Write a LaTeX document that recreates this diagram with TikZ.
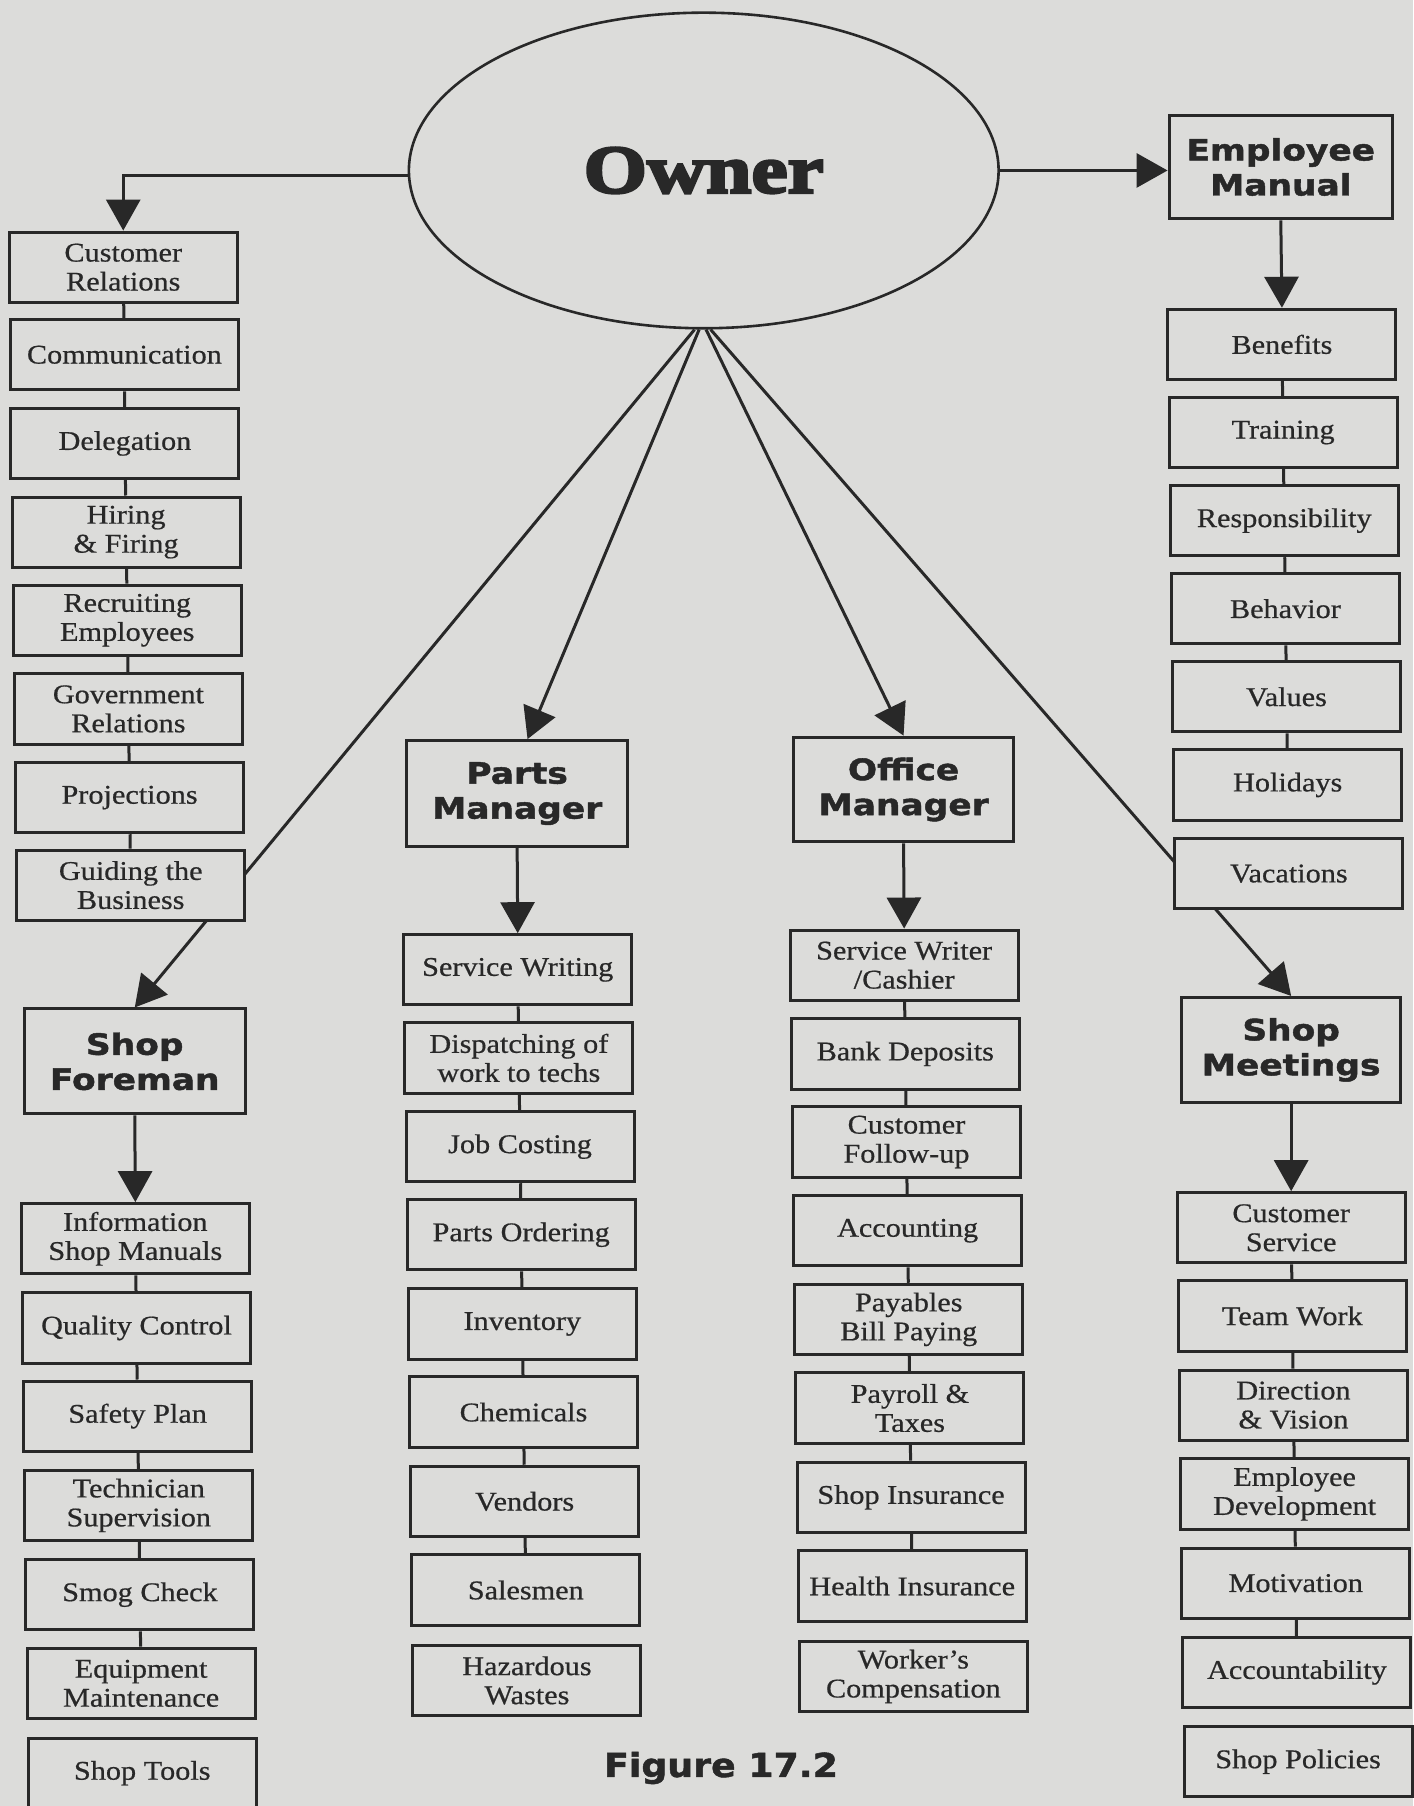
\documentclass[tikz,border=0pt]{standalone}
\usepackage{fontspec}
\usetikzlibrary{arrows.meta,shapes.geometric}
\newfontfamily\boxfont[FakeStretch=1.12,FakeBold=0.6]{Liberation Serif}
\newfontfamily\headfont[FakeStretch=1.17,FakeBold=1.5]{DejaVu Sans Bold}
\newfontfamily\figfont[FakeStretch=1.1,FakeBold=1.5]{DejaVu Sans Bold}
\newfontfamily\ownerfont[FakeStretch=1.2,FakeBold=4]{Liberation Serif Bold}
\definecolor{paper}{RGB}{220,220,218}
\definecolor{ink}{RGB}{40,40,40}
\def\pxu{0.5758pt}
\pgfdeclarelayer{paperlayer}
\pgfdeclarelayer{linelayer}
\pgfsetlayers{paperlayer,linelayer,main}
\tikzset{
  box/.style={draw=ink, fill=paper, line width=1.5pt, text=ink,
    minimum width=198*\pxu, minimum height=61*\pxu, inner sep=0pt, align=center,
    font=\boxfont\fontsize{13.5pt}{14.5pt}\selectfont},
  hbox/.style={box, minimum width=192*\pxu, minimum height=91*\pxu,
    font=\headfont\fontsize{14.7pt}{17.5pt}\selectfont},
  conn/.style={draw=ink, line width=1.5pt},
  arr/.style={conn, -{Triangle[length=15.5pt,width=17pt]}},
}
\begin{document}
\begin{tikzpicture}[x=\pxu, y=-\pxu]
\begin{pgfonlayer}{paperlayer}
\fill[paper] (0,0) rectangle (1227,1568);
\end{pgfonlayer}
\useasboundingbox (0,0) rectangle (1227,1568);

% Owner
\node[ellipse, draw=ink, fill=paper, line width=1.3pt, minimum width=512*\pxu,
  minimum height=274*\pxu, inner sep=0pt, text=ink,
  font=\ownerfont\fontsize{34pt}{36pt}\selectfont] (owner) at (611,148) {Owner};

% Column 1
\node[box] (cr)      at (107,232)   {Customer\\Relations};
\node[box] (comm)    at (108,308)   {Communication};
\node[box] (deleg)   at (108.5,385) {Delegation};
\node[box] (hiring)  at (109.5,462) {Hiring\\\& Firing};
\node[box] (recruit) at (110.5,538.5) {Recruiting\\Employees};
\node[box] (govt)    at (111.5,615.5) {Government\\Relations};
\node[box] (proj)    at (112.5,692.5) {Projections};
\node[box] (guide)   at (113.5,768.5) {Guiding the\\Business};
\node[hbox] (foreman) at (117,921.5) {Shop\\Foreman};
\node[box] (info)    at (117.5,1075.5) {Information\\Shop Manuals};
\node[box] (qc)      at (118.5,1153)  {Quality Control};
\node[box] (safety)  at (119.5,1229.5) {Safety Plan};
\node[box] (tech)    at (120.5,1307)  {Technician\\Supervision};
\node[box] (smog)    at (121.5,1384.5) {Smog Check};
\node[box] (equip)   at (122.5,1461.5) {Equipment\\Maintenance};
\node[box] (tools)   at (123.5,1539.5) {Shop Tools};

% Column 2
\node[hbox, minimum height=92*\pxu] (parts) at (449,689) {Parts\\Manager};
\node[box] (sw)      at (449.5,842)   {Service Writing};
\node[box] (disp)    at (450.5,918.5) {Dispatching of\\work to techs};
\node[box] (jobc)    at (451.5,995.5) {Job Costing};
\node[box] (porder)  at (452.5,1072)  {Parts Ordering};
\node[box] (inv)     at (453.5,1149.5) {Inventory};
\node[box] (chem)    at (454.5,1226)  {Chemicals};
\node[box] (vend)    at (455.5,1303.5) {Vendors};
\node[box] (sales)   at (456.5,1380.5) {Salesmen};
\node[box] (haz)     at (457.5,1459)  {Hazardous\\Wastes};

% Column 3
\node[hbox, minimum width=191*\pxu] (office) at (784.5,685.5) {Office\\Manager};
\node[box] (swc)     at (785,838)    {Service Writer\\/Cashier};
\node[box] (bank)    at (786,915)    {Bank Deposits};
\node[box] (cfu)     at (787,991.5)  {Customer\\Follow-up};
\node[box] (acct)    at (788,1068.5) {Accounting};
\node[box] (pay)     at (789,1145.5) {Payables\\Bill Paying};
\node[box] (payroll) at (790,1222.5) {Payroll \&\\Taxes};
\node[box] (shopins) at (791,1300)   {Shop Insurance};
\node[box] (health)  at (792,1377)   {Health Insurance};
\node[box] (worker)  at (793,1455.5) {Worker’s\\Compensation};

% Column 4
\node[hbox, minimum width=194*\pxu, minimum height=90*\pxu] (empman) at (1112,145) {Employee\\Manual};
\node[box] (ben)     at (1113,299)   {Benefits};
\node[box] (train)   at (1114,375.5) {Training};
\node[box] (resp)    at (1115,452)   {Responsibility};
\node[box] (behav)   at (1116,528.5) {Behavior};
\node[box] (values)  at (1117,605)   {Values};
\node[box] (holid)   at (1118,681.5) {Holidays};
\node[box] (vacat)   at (1119,758.5) {Vacations};
\node[hbox, minimum width=190*\pxu] (meet) at (1121,911.5) {Shop\\Meetings};
\node[box] (csvc)    at (1121,1066)  {Customer\\Service};
\node[box] (team)    at (1122,1142.5) {Team Work};
\node[box] (dir)     at (1123,1220)  {Direction\\\& Vision};
\node[box] (empdev)  at (1124,1297)  {Employee\\Development};
\node[box] (motiv)   at (1125,1374.5) {Motivation};
\node[box] (acctb)   at (1126,1452)  {Accountability};
\node[box] (pol)     at (1127,1529.5) {Shop Policies};

% Caption
\node[text=ink, font=\figfont\fontsize{16.5pt}{18pt}\selectfont] (fig) at (626,1535) {Figure 17.2};

% Connectors
\begin{pgfonlayer}{linelayer}
\draw[arr] ([yshift=-4*\pxu]owner.west) -| (cr.north);
\draw[arr] (owner.east) -- (owner.east -| empman.west);
\draw[arr] ([xshift=-8*\pxu]owner.south) -- (foreman.north);
\draw[arr] ([xshift=-4*\pxu]owner.south) -- ([xshift=9*\pxu]parts.north);
\draw[arr] ([xshift=2*\pxu]owner.south) -- (office.north);
\draw[arr] ([xshift=6*\pxu]owner.south) -- (meet.north);
\draw[arr] (foreman.south) -- (info.north);
\draw[arr] (parts.south) -- (sw.north);
\draw[arr] (office.south) -- (swc.north);
\draw[arr] (empman.south) -- (ben.north);
\draw[arr] (meet.south) -- (csvc.north);
\foreach \a/\b in {cr/comm, comm/deleg, deleg/hiring, hiring/recruit, recruit/govt,
  govt/proj, proj/guide, info/qc, qc/safety, safety/tech, tech/smog, smog/equip,
  sw/disp, disp/jobc, jobc/porder, porder/inv, inv/chem, chem/vend, vend/sales,
  swc/bank, bank/cfu, cfu/acct, acct/pay, pay/payroll, payroll/shopins, shopins/health,
  ben/train, train/resp, resp/behav, behav/values, values/holid,
  csvc/team, team/dir, dir/empdev, empdev/motiv, motiv/acctb}
  \draw[conn] (\a) -- (\b);
\end{pgfonlayer}
\end{tikzpicture}
\end{document}
